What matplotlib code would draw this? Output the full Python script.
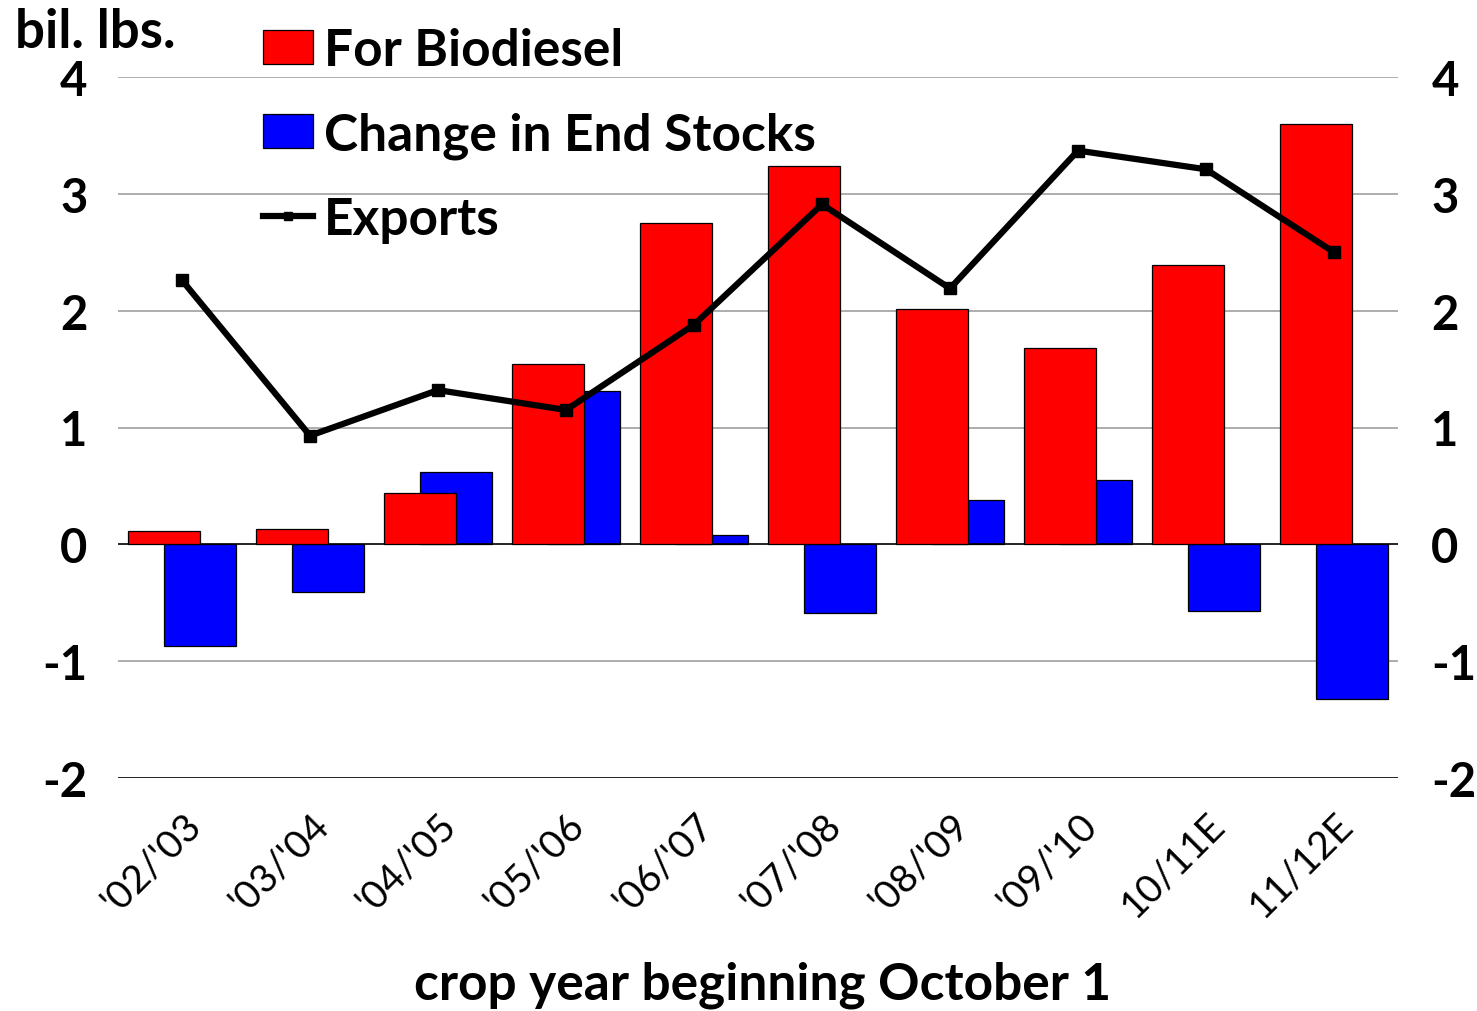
import matplotlib
matplotlib.use("Agg")
import matplotlib.pyplot as plt
from matplotlib.patches import Patch
from matplotlib.lines import Line2D
import numpy as np

categories = ["'02/'03", "'03/'04", "'04/'05", "'05/'06", "'06/'07",
              "'07/'08", "'08/'09", "'09/'10", "10/11E", "11/12E"]
biodiesel = [0.11, 0.13, 0.44, 1.54, 2.75, 3.24, 2.01, 1.68, 2.39, 3.60]
stock_change = [-0.87, -0.41, 0.62, 1.31, 0.08, -0.59, 0.38, 0.55, -0.57, -1.32]
exports = [2.26, 0.93, 1.32, 1.15, 1.88, 2.91, 2.19, 3.37, 3.21, 2.50]
yticks = [-2, -1, 0, 1, 2, 3, 4]

plt.rcParams['font.family'] = ['Lato', 'DejaVu Sans']
plt.rcParams['font.weight'] = 'bold'

W, H = 1477, 1012
fig = plt.figure(figsize=(W / 100, H / 100), dpi=100)
ax = fig.add_axes([118 / W, 1 - 779 / H, (1398 - 118) / W, (779 - 78) / H])

x = np.arange(len(categories))
bw = 0.5625
off = 0.14
ax.bar(x + off, stock_change, width=bw, color='#0000ff', edgecolor='black', linewidth=0.9, zorder=2)
ax.bar(x - off, biodiesel, width=bw, color='#ff0000', edgecolor='black', linewidth=0.9, zorder=3)
ax.plot(x, exports, color='black', linewidth=4.5, marker='s', markersize=8, zorder=4)

ax.set_xlim(-0.5, len(categories) - 0.5)
ax.set_ylim(-2, 4)
ax.set_yticks(yticks)
for yv in yticks:
    if yv in (0, -2):
        ax.axhline(yv, color='black', linewidth=1.2, zorder=2.5 if yv == 0 else 1)
    else:
        ax.axhline(yv, color='#a0a0a0', linewidth=1.2, zorder=1)

for s in ax.spines.values():
    s.set_visible(False)

ax.set_xticks(x)
ax.set_xticklabels(categories, rotation=45, ha='right', rotation_mode='anchor',
                   fontsize=28, fontweight='normal')
ax.tick_params(axis='x', length=0, pad=20)
ax.tick_params(axis='y', length=0, pad=22, labelsize=34)
ax.set_yticklabels([str(v) for v in yticks])

ax2 = ax.twinx()
ax2.set_ylim(-2, 4)
ax2.set_yticks(yticks)
ax2.set_yticklabels([str(v) for v in yticks])
ax2.tick_params(axis='y', length=0, pad=24, labelsize=34)
for s in ax2.spines.values():
    s.set_visible(False)

fig.text(15 / W, 1 - 48 / H, "bil. lbs.", fontsize=38, ha='left', va='baseline')
fig.text(763 / W, 1 - 985 / H, "crop year beginning October 1", fontsize=37,
         ha='center', va='center')

handles = [Patch(facecolor='#ff0000', edgecolor='black', linewidth=0.9),
           Patch(facecolor='#0000ff', edgecolor='black', linewidth=0.9),
           Line2D([0], [0], color='black', linewidth=4.5, marker='s', markersize=6)]
labels = ["For Biodiesel", "Change in End Stocks", "Exports"]
fig.legend(handles, labels, loc='upper left', bbox_to_anchor=(263 / W, 1 - 28 / H),
           frameon=False, fontsize=37, borderpad=0, borderaxespad=0,
           handlelength=0.98, handleheight=0.62, handletextpad=0.2, labelspacing=0.72)

fig.savefig("out.png", dpi=100, facecolor='white')
